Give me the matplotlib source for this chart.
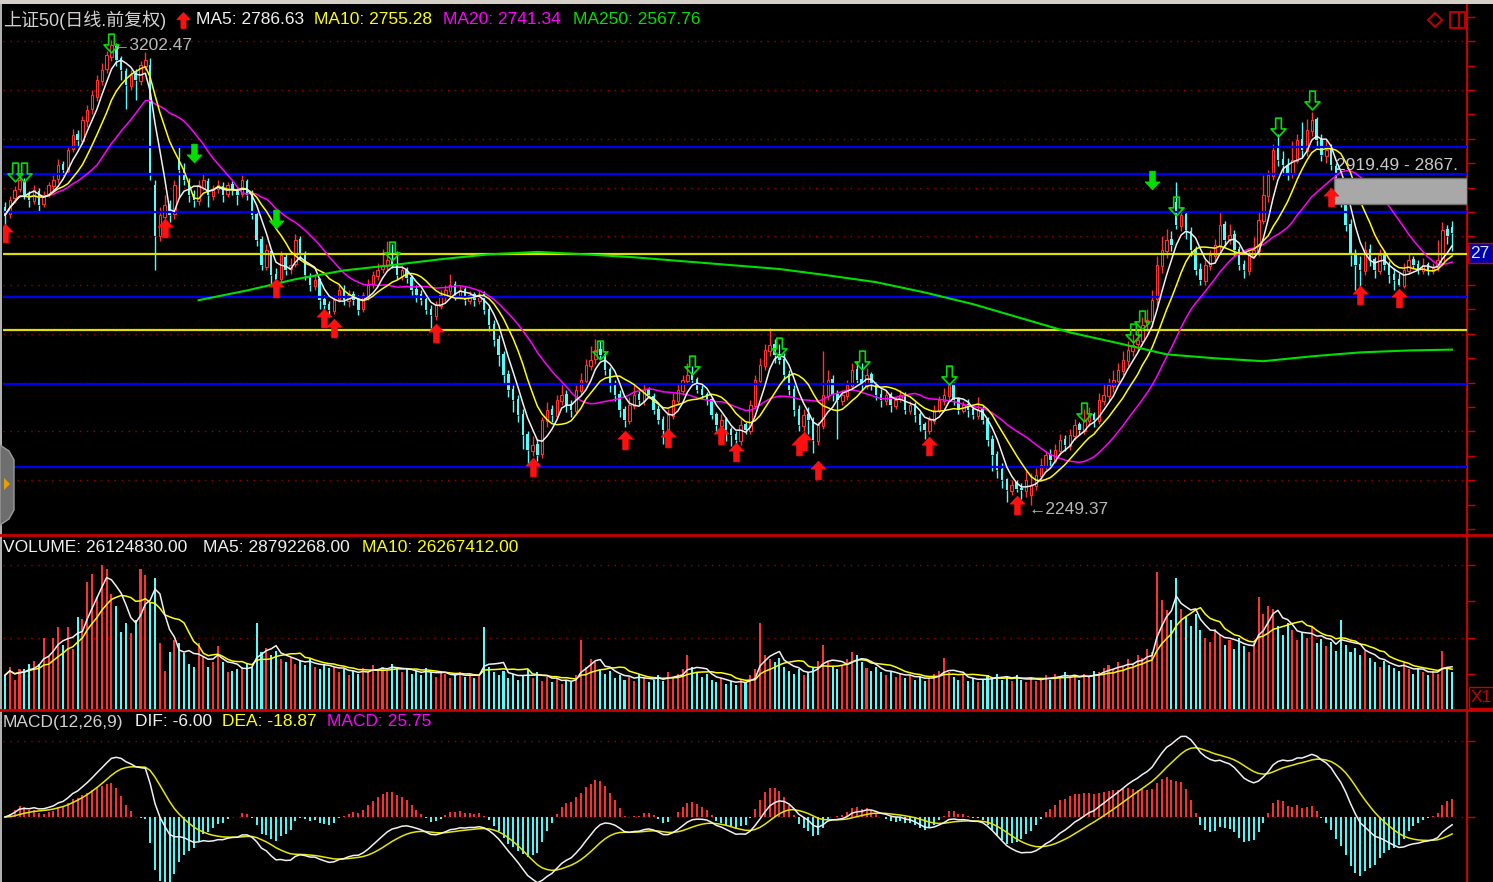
import numpy as np
import pandas as pd
import matplotlib
matplotlib.use("Agg")
import matplotlib.pyplot as plt
from matplotlib.path import Path
from matplotlib.patches import Rectangle, Polygon
from matplotlib.lines import Line2D

plt.rcParams['font.family'] = ['Liberation Sans', 'Noto Sans CJK SC', 'DejaVu Sans']

# ── Daily bars (上证50, 前复权) ─────────────────────────────────────────────
opens = [
    2860, 2846, 2878, 2898, 2912, 2886, 2872, 2893, 2866, 2886,
    2903, 2918, 2948, 2934, 2980, 3010, 2995, 3036, 3062, 3085,
    3118, 3143, 3168, 3190, 3165, 3139, 3108, 3133, 3118, 3150,
    3150, 2905, 2800, 2840, 2866, 2845, 2960, 2938, 2912, 2886,
    2872, 2900, 2912, 2882, 2897, 2903, 2886, 2907, 2893, 2886,
    2912, 2886, 2845, 2795, 2738, 2770, 2722, 2712, 2758, 2733,
    2744, 2795, 2763, 2718, 2698, 2712, 2671, 2661, 2647, 2671,
    2692, 2667, 2681, 2671, 2651, 2677, 2702, 2718, 2733, 2739,
    2753, 2743, 2718, 2733, 2716, 2692, 2681, 2671, 2651, 2636,
    2657, 2677, 2688, 2702, 2677, 2692, 2667, 2681, 2667, 2681,
    2651, 2620, 2589, 2558, 2517, 2487, 2466, 2435, 2394, 2360,
    2374, 2353, 2421, 2446, 2431, 2462, 2476, 2456, 2442, 2483,
    2503, 2534, 2548, 2569, 2558, 2528, 2497, 2476, 2446, 2421,
    2452, 2476, 2462, 2487, 2472, 2446, 2425, 2401, 2431, 2462,
    2483, 2503, 2517, 2507, 2487, 2476, 2466, 2435, 2411, 2425,
    2405, 2394, 2380, 2415, 2401, 2452, 2503, 2534, 2565, 2579,
    2558, 2548, 2517, 2487, 2446, 2411, 2435, 2425, 2380, 2411,
    2472, 2507, 2476, 2462, 2472, 2493, 2528, 2507, 2493, 2517,
    2497, 2476, 2462, 2476, 2452, 2466, 2476, 2442, 2456, 2435,
    2415, 2401, 2421, 2442, 2462, 2472, 2497, 2466, 2442, 2456,
    2446, 2431, 2446, 2425, 2384, 2353, 2323, 2302, 2278, 2295,
    2284, 2278, 2270, 2288, 2308, 2329, 2353, 2339, 2360, 2384,
    2370, 2390, 2415, 2401, 2421, 2435, 2421, 2462, 2472, 2493,
    2503, 2524, 2544, 2565, 2579, 2585, 2620, 2626, 2671, 2739,
    2770, 2794, 2870, 2821, 2845, 2811, 2774, 2733, 2708, 2739,
    2759, 2780, 2825, 2795, 2804, 2774, 2743, 2729, 2759, 2770,
    2831, 2882, 2923, 2985, 2958, 2944, 2927, 2954, 2999, 2975,
    3016, 3040, 2999, 2964, 2979, 2944, 2897, 2886, 2825, 2763,
    2743, 2729, 2774, 2753, 2729, 2763, 2743, 2722, 2712, 2698,
    2729, 2753, 2743, 2729, 2743, 2729, 2737, 2745, 2815, 2818,
]
highs = [
    2870, 2882, 2904, 2928, 2920, 2893, 2906, 2900, 2892, 2912,
    2925, 2958, 2955, 2985, 3020, 3018, 3046, 3070, 3100, 3130,
    3155, 3180, 3202.47, 3196, 3170, 3145, 3140, 3142, 3160, 3178,
    3165, 2915, 2860, 2885, 2875, 2915, 2985, 2950, 2920, 2895,
    2915, 2928, 2920, 2905, 2915, 2912, 2912, 2914, 2900, 2925,
    2918, 2895, 2850, 2800, 2785, 2775, 2735, 2770, 2765, 2755,
    2805, 2800, 2770, 2725, 2722, 2715, 2680, 2668, 2680, 2700,
    2700, 2690, 2688, 2680, 2686, 2712, 2728, 2745, 2775, 2790,
    2785, 2770, 2742, 2738, 2720, 2700, 2690, 2680, 2660, 2668,
    2690, 2700, 2722, 2708, 2698, 2696, 2688, 2686, 2690, 2688,
    2660, 2628, 2598, 2565, 2525, 2495, 2474, 2445, 2400, 2390,
    2385, 2430, 2460, 2455, 2475, 2500, 2485, 2465, 2495, 2520,
    2548, 2575, 2590, 2585, 2562, 2532, 2505, 2485, 2452, 2470,
    2495, 2482, 2500, 2492, 2478, 2455, 2432, 2445, 2478, 2500,
    2515, 2540, 2535, 2512, 2495, 2480, 2470, 2440, 2436, 2430,
    2410, 2400, 2425, 2420, 2465, 2515, 2550, 2580, 2612, 2590,
    2580, 2560, 2525, 2495, 2455, 2445, 2450, 2430, 2420, 2565,
    2525, 2515, 2485, 2485, 2505, 2540, 2545, 2540, 2530, 2522,
    2502, 2488, 2484, 2480, 2470, 2485, 2480, 2462, 2460, 2440,
    2420, 2432, 2455, 2472, 2490, 2500, 2502, 2470, 2462, 2466,
    2455, 2470, 2452, 2430, 2392, 2360, 2335, 2305, 2300, 2300,
    2295, 2318, 2315, 2325, 2345, 2360, 2365, 2375, 2395, 2392,
    2405, 2425, 2420, 2445, 2450, 2440, 2478, 2500, 2510, 2525,
    2540, 2565, 2585, 2600, 2610, 2635, 2650, 2690, 2760, 2800,
    2815, 2810, 2911, 2860, 2850, 2820, 2780, 2745, 2752, 2772,
    2795, 2850, 2832, 2825, 2812, 2780, 2752, 2770, 2798, 2850,
    2925, 2935, 2990, 3010, 2975, 2960, 2995, 3010, 3035, 3040,
    3055, 3045, 3010, 3000, 2990, 2950, 2905, 2895, 2835, 2775,
    2760, 2790, 2785, 2758, 2775, 2770, 2750, 2735, 2725, 2745,
    2765, 2760, 2752, 2755, 2748, 2745, 2792, 2830, 2824, 2832,
]
lows = [
    2815, 2838, 2868, 2890, 2876, 2860, 2866, 2850, 2860, 2880,
    2890, 2910, 2925, 2930, 2972, 2985, 2990, 3025, 3050, 3078,
    3110, 3135, 3160, 3150, 3120, 3060, 3100, 3080, 3110, 3140,
    2915, 2730, 2790, 2825, 2830, 2835, 2880, 2905, 2870, 2860,
    2865, 2895, 2860, 2875, 2888, 2870, 2880, 2885, 2865, 2880,
    2875, 2835, 2780, 2730, 2730, 2700, 2690, 2705, 2720, 2722,
    2738, 2752, 2710, 2688, 2690, 2650, 2640, 2635, 2640, 2665,
    2660, 2655, 2660, 2638, 2645, 2670, 2695, 2710, 2725, 2730,
    2735, 2712, 2710, 2705, 2680, 2665, 2660, 2640, 2612, 2628,
    2650, 2668, 2680, 2670, 2672, 2660, 2662, 2658, 2662, 2640,
    2605, 2575, 2535, 2500, 2470, 2440, 2420, 2365, 2330, 2350,
    2340, 2345, 2410, 2420, 2425, 2455, 2440, 2430, 2438, 2475,
    2495, 2525, 2538, 2548, 2515, 2480, 2462, 2430, 2410, 2415,
    2445, 2455, 2455, 2468, 2436, 2415, 2375, 2395, 2425, 2455,
    2475, 2498, 2500, 2478, 2466, 2455, 2425, 2400, 2400, 2380,
    2370, 2365, 2372, 2395, 2395, 2445, 2495, 2525, 2555, 2540,
    2538, 2505, 2475, 2432, 2400, 2400, 2395, 2355, 2372, 2405,
    2465, 2462, 2385, 2455, 2465, 2488, 2495, 2485, 2488, 2485,
    2465, 2450, 2455, 2440, 2445, 2460, 2435, 2435, 2420, 2400,
    2385, 2395, 2415, 2438, 2455, 2465, 2455, 2435, 2438, 2430,
    2425, 2425, 2415, 2370, 2318, 2305, 2285, 2256, 2270, 2276,
    2262, 2265, 2249.37, 2280, 2300, 2320, 2330, 2335, 2352, 2360,
    2362, 2382, 2395, 2395, 2412, 2410, 2415, 2455, 2462, 2480,
    2495, 2515, 2535, 2555, 2565, 2578, 2605, 2615, 2660, 2725,
    2755, 2770, 2815, 2810, 2795, 2760, 2720, 2700, 2700, 2730,
    2745, 2770, 2780, 2785, 2760, 2730, 2715, 2720, 2755, 2760,
    2825, 2870, 2915, 2945, 2925, 2915, 2920, 2950, 2960, 2965,
    3005, 2985, 2955, 2950, 2935, 2880, 2860, 2810, 2740, 2690,
    2690, 2720, 2740, 2715, 2722, 2730, 2705, 2690, 2698, 2695,
    2722, 2735, 2722, 2722, 2720, 2722, 2728, 2740, 2785, 2770,
]
closes = [
    2843, 2874, 2895, 2915, 2884, 2874, 2895, 2864, 2884, 2905,
    2915, 2946, 2936, 2977, 3007, 2997, 3038, 3059, 3089, 3120,
    3141, 3171, 3192, 3161, 3141, 3110, 3130, 3120, 3151, 3161,
    2925, 2800, 2843, 2864, 2843, 2905, 2936, 2915, 2884, 2874,
    2905, 2915, 2884, 2895, 2905, 2884, 2905, 2895, 2884, 2915,
    2884, 2843, 2792, 2741, 2772, 2720, 2710, 2761, 2731, 2741,
    2792, 2761, 2720, 2700, 2710, 2669, 2659, 2649, 2669, 2690,
    2669, 2679, 2669, 2649, 2679, 2700, 2720, 2731, 2741, 2751,
    2741, 2720, 2731, 2714, 2690, 2679, 2669, 2649, 2638, 2659,
    2679, 2690, 2700, 2679, 2690, 2669, 2679, 2669, 2679, 2649,
    2618, 2587, 2556, 2515, 2485, 2464, 2433, 2392, 2362, 2372,
    2351, 2423, 2444, 2433, 2464, 2474, 2454, 2444, 2485, 2505,
    2536, 2546, 2567, 2556, 2526, 2495, 2474, 2444, 2423, 2454,
    2474, 2464, 2485, 2474, 2444, 2423, 2403, 2433, 2464, 2485,
    2505, 2515, 2505, 2485, 2474, 2464, 2433, 2413, 2423, 2403,
    2392, 2382, 2413, 2403, 2454, 2505, 2536, 2567, 2577, 2556,
    2546, 2515, 2485, 2444, 2413, 2433, 2423, 2382, 2413, 2474,
    2505, 2474, 2464, 2474, 2495, 2526, 2505, 2495, 2515, 2495,
    2474, 2464, 2474, 2454, 2464, 2474, 2444, 2454, 2433, 2413,
    2403, 2423, 2444, 2464, 2474, 2495, 2464, 2444, 2454, 2444,
    2433, 2444, 2423, 2382, 2351, 2321, 2300, 2280, 2290, 2282,
    2280, 2300, 2290, 2310, 2331, 2351, 2341, 2362, 2382, 2372,
    2392, 2413, 2403, 2423, 2433, 2423, 2464, 2474, 2495, 2505,
    2526, 2546, 2567, 2577, 2587, 2618, 2628, 2669, 2741, 2772,
    2792, 2782, 2823, 2843, 2813, 2772, 2731, 2710, 2741, 2761,
    2782, 2823, 2792, 2802, 2772, 2741, 2731, 2761, 2772, 2833,
    2884, 2925, 2977, 2956, 2946, 2925, 2956, 2997, 2977, 3018,
    3038, 2997, 2966, 2977, 2946, 2895, 2884, 2823, 2761, 2741,
    2731, 2772, 2751, 2731, 2761, 2741, 2720, 2710, 2700, 2731,
    2751, 2741, 2731, 2741, 2731, 2735, 2751, 2812, 2800, 2806,
]
# volume in millions
volumes = [
    24, 30, 21, 28, 28, 32, 34, 32, 50, 37,
    50, 57, 45, 57, 42, 64, 63, 88, 94, 78,
    100, 97, 80, 72, 54, 60, 53, 62, 97, 93,
    74, 91, 46, 27, 40, 48, 46, 39, 32, 30,
    46, 37, 30, 33, 44, 33, 26, 27, 28, 30,
    32, 30, 60, 40, 43, 38, 41, 35, 33, 36,
    32, 34, 31, 35, 30, 28, 32, 29, 30, 26,
    28, 24, 27, 25, 29, 26, 31, 28, 30, 27,
    32, 29, 26, 28, 25, 27, 24, 29, 26, 23,
    27, 25, 22, 24, 26, 23, 25, 22, 24, 57,
    30, 26, 24, 27, 22, 25, 21, 24, 28, 22,
    26, 20, 23, 19, 22, 18, 21, 19, 24, 48,
    30, 35, 33, 28, 25, 27, 22, 24, 21, 23,
    20, 25, 22, 19, 21, 24, 20, 26, 22, 25,
    28, 38, 30, 26, 23, 25, 21, 19, 22, 18,
    20, 17, 21, 19, 24, 28, 60, 38, 35, 33,
    36, 30, 27, 25, 28, 24, 26, 30, 34, 45,
    33, 30, 28, 31, 35, 40, 38, 33, 29, 27,
    30, 26, 24, 27, 23, 25, 22, 24, 21, 23,
    20, 22, 25, 27, 36, 26, 23, 21, 24, 20,
    22, 19, 21, 24, 22, 25, 21, 23, 20, 24,
    21, 19, 23, 20, 22, 24, 21, 25, 23, 26,
    22, 24, 21, 25, 23, 27, 26, 29, 31, 28,
    33, 30, 35, 32, 38, 36, 42, 40, 95, 76,
    69, 62, 91, 70, 64, 58, 66, 55, 50, 47,
    56, 52, 45, 48, 42, 50, 44, 40, 46, 78,
    66, 72, 70, 58, 52, 60, 55, 48, 53, 50,
    58, 46, 49, 44, 47, 41, 62, 45, 40, 43,
    38, 41, 36, 33, 30, 34, 31, 29, 27, 33,
    28, 25, 29, 26, 24, 27, 25, 41, 30, 26.1,
]

# MA250 (needs history before the window)
ma250_idx = [40, 50, 60, 70, 80, 90, 100, 110, 120, 130, 140, 150, 160, 170,
             180, 190, 200, 210, 220, 230, 240, 250, 260, 270, 280, 290, 299]
ma250_val = [2669, 2689, 2712, 2730, 2741, 2753, 2763, 2768, 2763, 2757, 2749,
             2741, 2733, 2720, 2706, 2685, 2661, 2632, 2603, 2581, 2558, 2550,
             2544, 2554, 2562, 2566, 2567.76]

# user drawn horizontal lines
blue_levels = [2983.1, 2927.8, 2849.9, 2675.6, 2497.2, 2327.1]
yellow_levels = [2763.8, 2608.0]

# signal arrows (bar index, price)
red_up_idx = [0, 33, 56, 66, 68, 89, 109, 128, 137, 148, 151, 164, 165, 168,
              191, 209, 274, 280, 288]
red_up_px = [2807, 2817, 2694, 2632, 2612, 2602, 2327, 2382, 2387, 2393, 2358,
             2370, 2380, 2321, 2370, 2249, 2881, 2680, 2674]
green_hollow_idx = [2, 4, 22, 80, 123, 142, 160, 177, 195, 223, 233, 235, 242,
                    263, 270]
green_hollow_px = [2932, 2932, 3196, 2770, 2567, 2536, 2573, 2546, 2516, 2440,
                   2602, 2628, 2862, 3024, 3079]
green_fill_idx = [39, 56, 237]
green_fill_px = [2971, 2835, 2915]

zone_start, zone_hi, zone_lo = 275, 2919.49, 2867.0

# ── Style ───────────────────────────────────────────────────────────────────
RED = '#FF3232'
CYAN = '#54FCFC'
FRAME = '#C80000'
GRID = '#A00000'
W, H = 1493, 882

def fx(px):
    return px / W

def fy(py):
    return 1 - py / H

o = np.array(opens, float)
c = np.array(closes, float)
hi = np.array(highs, float)
lo = np.array(lows, float)
vol = np.array(volumes, float)
x = np.arange(len(c))
up = c >= o
colors = np.where(up, RED, CYAN)

fig = plt.figure(figsize=(W / 100, H / 100), dpi=100, facecolor='black')

def panel(top, bottom, ylim, ticks):
    ax = fig.add_axes([fx(3), fy(bottom), (1467 - 3) / W, (bottom - top) / H])
    ax.set_facecolor('black')
    for s in ('left', 'top', 'bottom'):
        ax.spines[s].set_visible(False)
    ax.spines['right'].set_color(FRAME)
    ax.spines['right'].set_linewidth(1.5)
    ax.yaxis.tick_right()
    ax.set_yticks(ticks)
    ax.tick_params(axis='y', colors=FRAME, length=6, width=1, labelright=False)
    ax.set_xticks([])
    ax.set_xlim(-0.41, 302.07)
    ax.set_ylim(*ylim)
    return ax

def dotted(ax, level):
    ax.axhline(level, color=GRID, ls=(0, (1, 4)), lw=1, zorder=0)

# ── Price panel ─────────────────────────────────────────────────────────────
ax = panel(5, 535, (2187.7, 3274.2), np.arange(2200, 3251, 50))
for lv in range(2300, 3201, 100):
    dotted(ax, lv)

body_lo = np.minimum(o, c)
body_hi = np.maximum(o, c)
ax.vlines(x, lo, body_lo, colors=colors, lw=1, zorder=2)
ax.vlines(x, body_hi, hi, colors=colors, lw=1, zorder=2)
ax.bar(x[up], (body_hi - body_lo)[up] + 0.5, bottom=body_lo[up], width=0.5,
       facecolor='black', edgecolor=RED, linewidth=0.8, zorder=2)
ax.bar(x[~up], (body_hi - body_lo)[~up] + 0.5, bottom=body_lo[~up], width=0.5,
       color=CYAN, linewidth=0, zorder=2)

for lv in blue_levels:
    ax.axhline(lv, color='#0000F0', lw=1.6, zorder=3)
for lv in yellow_levels:
    ax.axhline(lv, color='#E0E000', lw=1.6, zorder=3)

cs = pd.Series(c)
ax.plot(x, cs.rolling(20, min_periods=1).mean(), color='#FF00FF', lw=1.1, zorder=4)
ax.plot(x, cs.rolling(10, min_periods=1).mean(), color='#FFFF00', lw=1.1, zorder=4)
ax.plot(x, cs.rolling(5, min_periods=1).mean(), color='#F0F0F0', lw=1.1, zorder=4)
ax.plot(ma250_idx, ma250_val, color='#00E000', lw=1.5, zorder=4)

ax.add_patch(Rectangle((zone_start - 0.4, zone_lo), 302.07 - zone_start + 0.4,
                       zone_hi - zone_lo, facecolor='#A8A8A8',
                       edgecolor='#707070', lw=1, zorder=5))

up_path = Path([(0, 1), (0.8, 0.15), (0.3, 0.15), (0.3, -1), (-0.3, -1),
                (-0.3, 0.15), (-0.8, 0.15), (0, 1)],
               [Path.MOVETO] + [Path.LINETO] * 6 + [Path.CLOSEPOLY])
down_path = Path(up_path.vertices * [1, -1], up_path.codes)

ax.plot(red_up_idx, red_up_px, ls='none', marker=up_path, ms=13.5,
        mfc='#FF1010', mec='#FF1010', mew=0.5, zorder=6)
ax.plot(green_hollow_idx, green_hollow_px, ls='none', marker=down_path, ms=13.5,
        mfc='none', mec='#00E000', mew=1.2, zorder=6)
ax.plot(green_fill_idx, green_fill_px, ls='none', marker=down_path, ms=13.5,
        mfc='#00E000', mec='#00E000', mew=0.5, zorder=6)

# ── Volume panel ────────────────────────────────────────────────────────────
axv = panel(535, 710, (0, 120.75), [25, 50, 75, 100])
dotted(axv, 50)
dotted(axv, 100)
axv.bar(x, vol, width=0.42, color=colors, linewidth=0, zorder=2)
vs = pd.Series(vol)
axv.plot(x, vs.rolling(10, min_periods=1).mean(), color='#FFFF00', lw=1.1, zorder=3)
axv.plot(x, vs.rolling(5, min_periods=1).mean(), color='#F0F0F0', lw=1.1, zorder=3)

# ── MACD panel ──────────────────────────────────────────────────────────────
axm = panel(710, 882, (-85.5, 140.8), [0, 100])
dotted(axm, 0)
dotted(axm, 100)
dif = cs.ewm(span=12, adjust=False).mean() - cs.ewm(span=26, adjust=False).mean()
dea = dif.ewm(span=9, adjust=False).mean()
hist = 2 * (dif - dea)
axm.vlines(x, 0, hist, colors=np.where(hist >= 0, RED, CYAN), lw=1.4, zorder=2)
axm.plot(x, dea, color='#E6E600', lw=1.1, zorder=3)
axm.plot(x, dif, color='#F0F0F0', lw=1.1, zorder=3)

# ── Frame pieces ────────────────────────────────────────────────────────────
for py in (535, 710):
    fig.add_artist(Line2D([0, 1], [fy(py), fy(py)], color=FRAME, lw=2,
                          transform=fig.transFigure))
fig.add_artist(Rectangle((0, fy(4)), 1, 4 / H, transform=fig.transFigure,
                         fc='#D4D0C8', ec='none'))
fig.add_artist(Rectangle((0, 0), fx(2), fy(4), transform=fig.transFigure,
                         fc='#B0B0B0', ec='none'))
tab = [(0, 445), (9, 451), (14, 460), (14, 510), (9, 519), (0, 525)]
fig.add_artist(Polygon([(fx(a), fy(b)) for a, b in tab], closed=True,
                       transform=fig.transFigure, fc='#6E6E6E', ec='#9A9A9A'))
tri = [(4, 478), (10, 484), (4, 490)]
fig.add_artist(Polygon([(fx(a), fy(b)) for a, b in tri], closed=True,
                       transform=fig.transFigure, fc='#E8A000', ec='none'))

# top-right icons
dia = [(1435, 13), (1442, 20), (1435, 27), (1428, 20)]
fig.add_artist(Polygon([(fx(a), fy(b)) for a, b in dia], closed=True,
                       transform=fig.transFigure, fc='none', ec=FRAME, lw=1.3))
fig.add_artist(Rectangle((fx(1450), fy(28)), 15 / W, 16 / H,
                         transform=fig.transFigure, fc='none', ec=FRAME, lw=1.3))
fig.add_artist(Line2D([fx(1459), fx(1459)], [fy(28), fy(12)], color=FRAME,
                      lw=1.3, transform=fig.transFigure))

# right side price tag and scale box
fig.add_artist(Rectangle((fx(1468), fy(263)), 25 / W, 20 / H,
                         transform=fig.transFigure, fc='#0000A8', ec=FRAME, lw=1))
fig.text(fx(1470), fy(253), '27', color='#DDE4FF', fontsize=12.5, va='center')
fig.add_artist(Rectangle((fx(1469), fy(708)), 24 / W, 21 / H,
                         transform=fig.transFigure, fc='black', ec=FRAME, lw=1))
fig.text(fx(1471), fy(698), 'X1', color=FRAME, fontsize=12.5, va='center')

# ── Header texts ────────────────────────────────────────────────────────────
def label(px, py, s, color, size=12.5):
    fig.text(fx(px), fy(py), s, color=color, fontsize=size, va='center', ha='left')

label(3, 20, '上证50(日线.前复权)', '#D0D0D0', 13)
fig.add_artist(Line2D([fx(183)], [fy(20)], marker=up_path, ms=11, color='#FF1010',
                      ls='none', transform=fig.transFigure))
label(196, 20, 'MA5: 2786.63', '#F0F0F0')
label(314, 20, 'MA10: 2755.28', '#FFFF00')
label(443, 20, 'MA20: 2741.34', '#FF00FF')
label(573, 20, 'MA250: 2567.76', '#00E000')

label(3, 547, 'VOLUME: 26124830.00', '#F0F0F0')
label(203, 547, 'MA5: 28792268.00', '#F0F0F0')
label(362, 547, 'MA10: 26267412.00', '#FFFF00')

label(3, 722, 'MACD(12,26,9)', '#D0D0D0')
label(135, 722, 'DIF: -6.00', '#F0F0F0')
label(222, 722, 'DEA: -18.87', '#FFFF00')
label(327, 722, 'MACD: 25.75', '#FF00FF')

label(112, 45, '←3202.47', '#B8B8B8')
label(1028, 509, '←2249.37', '#B8B8B8')
label(1336, 165, '2919.49 - 2867.', '#C8C8C8')

fig.savefig('out.png', dpi=100, facecolor='black')
